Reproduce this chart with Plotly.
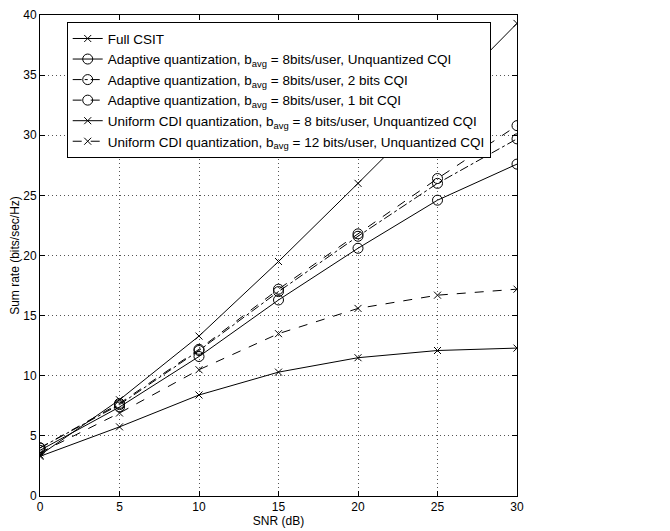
import plotly.graph_objects as go

snr = [0, 5, 10, 15, 20, 25, 30]
full_csit = [3.4, 8.0, 13.3, 19.5, 26.0, 32.6, 39.3]
adapt_unq = [3.8, 7.4, 11.6, 16.3, 20.6, 24.6, 27.6]
adapt_2bit = [4.0, 7.6, 12.1, 17.0, 21.6, 26.0, 29.7]
adapt_1bit = [4.0, 7.7, 12.2, 17.2, 21.8, 26.4, 30.8]
unif_8 = [3.3, 5.75, 8.4, 10.3, 11.5, 12.1, 12.3]
unif_12 = [3.6, 6.9, 10.5, 13.5, 15.6, 16.7, 17.2]

names = [
    "Full CSIT",
    "Adaptive quantization, b<sub>avg</sub> = 8bits/user, Unquantized CQI",
    "Adaptive quantization, b<sub>avg</sub> = 8bits/user, 2 bits CQI",
    "Adaptive quantization, b<sub>avg</sub> = 8bits/user, 1 bit CQI",
    "Uniform CDI quantization, b<sub>avg</sub> = 8 bits/user, Unquantized CQI",
    "Uniform CDI quantization, b<sub>avg</sub> = 12 bits/user, Unquantized CQI",
]
series = [full_csit, adapt_unq, adapt_2bit, adapt_1bit, unif_8, unif_12]
symbols = ["x-thin-open", "circle-open", "circle-open", "circle-open", "x-thin-open", "x-thin-open"]
dashes = ["solid", "solid", "dashdot", "dash", "solid", "dash"]
sizes = [7, 10, 10, 10, 7, 7]

fig = go.Figure()
for nm, ys, sym, dsh, sz in zip(names, series, symbols, dashes, sizes):
    fig.add_trace(go.Scatter(
        x=snr, y=ys, name=nm, mode="lines+markers",
        line=dict(color="black", width=1, dash=dsh),
        marker=dict(symbol=sym, size=sz, color="black", line=dict(width=1, color="black")),
    ))

axis_common = dict(
    showline=True, linecolor="black", linewidth=1, mirror="ticks",
    ticks="inside", ticklen=5, tickcolor="black",
    showgrid=True, gridcolor="#555", griddash="1px,3px", gridwidth=1,
    zeroline=False, tickfont=dict(size=12, color="black"), automargin=False,
)

fig.update_layout(
    width=662, height=523,
    margin=dict(l=32, r=153, t=7, b=35),
    paper_bgcolor="white", plot_bgcolor="white",
    font=dict(family="Liberation Sans, Arial, sans-serif", size=12, color="black"),
    xaxis=dict(range=[0, 30], tickvals=[0, 5, 10, 15, 20, 25, 30],
               title=dict(text="SNR (dB)", standoff=0, font=dict(size=12)), **axis_common),
    yaxis=dict(range=[0, 40], tickvals=[0, 5, 10, 15, 20, 25, 30, 35, 40],
               title=dict(text="Sum rate (bits/sec/Hz)", standoff=8, font=dict(size=12)), **axis_common),
    legend=dict(x=0.056, y=0.985, xanchor="left", yanchor="top",
                bgcolor="white", bordercolor="black", borderwidth=1,
                font=dict(size=13.5), tracegroupgap=0, itemwidth=30),
    showlegend=True,
)

fig.write_html("out.html")
